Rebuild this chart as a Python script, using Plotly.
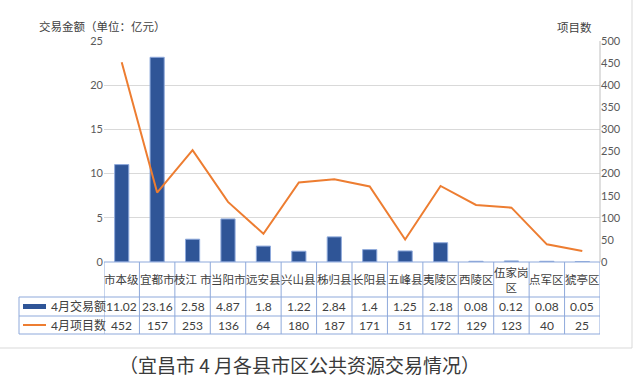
import plotly.graph_objects as go

categories = ["市本级", "宜都市", "枝江市", "当阳市", "远安县", "兴山县", "秭归县",
              "长阳县", "五峰县", "夷陵区", "西陵区", "伍家岗区", "点军区", "猇亭区"]
category_labels = ["市本级", "宜都市", "枝江 市", "当阳市", "远安县", "兴山县", "秭归县",
                   "长阳县", "五峰县", "夷陵区", "西陵区", "伍家岗<br>区", "点军区", "猇亭区"]
amounts = [11.02, 23.16, 2.58, 4.87, 1.8, 1.22, 2.84, 1.4, 1.25, 2.18, 0.08, 0.12, 0.08, 0.05]
projects = [452, 157, 253, 136, 64, 180, 187, 171, 51, 172, 129, 123, 40, 25]
series_names = ["4月交易额", "4月项目数"]
left_title = "交易金额（单位：亿元）"
right_title = "项目数"
caption = "（宜昌市 4 月各县市区公共资源交易情况）"

W, H = 635, 388
L, R, T, B = 104, 600, 41, 262  # plot area in pixels

def px(x):
    return (x - L) / (R - L)

def py(y):
    return (B - y) / (B - T)

BLUE = "#2F5597"
ORANGE = "#ED7D31"
GRID = "#D9D9D9"
TBL = "#8EA9DB"
FONT = "Lato, Noto Sans CJK SC, sans-serif"
TXT = "#404040"

fig = go.Figure()
fig.add_trace(go.Bar(x=categories, y=amounts, name=series_names[0], width=0.4,
                     marker=dict(color=BLUE, line=dict(color="#8FAADC", width=1))))
fig.add_trace(go.Scatter(x=categories, y=projects, name=series_names[1], yaxis="y2",
                         mode="lines", line=dict(color=ORANGE, width=2)))

shapes = []
# horizontal table lines
row_y = [262, 297, 316, 334]
for i, yy in enumerate(row_y):
    x0 = px(L) if i == 0 else px(19)
    shapes.append(dict(type="line", xref="paper", yref="paper", x0=x0, x1=1,
                       y0=py(yy), y1=py(yy), line=dict(color=TBL, width=1)))
# vertical table lines
for i in range(len(categories) + 1):
    shapes.append(dict(type="line", xref="x", yref="paper", x0=i - 0.5, x1=i - 0.5,
                       y0=py(262), y1=py(334), line=dict(color=TBL, width=1)))
shapes.append(dict(type="line", xref="paper", yref="paper", x0=px(19), x1=px(19),
                   y0=py(297), y1=py(334), line=dict(color=TBL, width=1)))
# legend glyphs
shapes.append(dict(type="rect", xref="paper", yref="paper", x0=px(23), x1=px(46),
                   y0=py(309), y1=py(304), fillcolor=BLUE, line=dict(width=0)))
shapes.append(dict(type="line", xref="paper", yref="paper", x0=px(23), x1=px(46),
                   y0=py(325), y1=py(325), line=dict(color=ORANGE, width=2)))
# chart frame
shapes.append(dict(type="rect", xref="paper", yref="paper", x0=px(-2), x1=px(632),
                   y0=py(348), y1=py(-2), line=dict(color=GRID, width=1)))
# right axis line
shapes.append(dict(type="line", xref="paper", yref="paper", x0=1, x1=1,
                   y0=0, y1=1, line=dict(color="#BFBFBF", width=1)))

ann = []
for c, lab, a, p in zip(categories, category_labels, amounts, projects):
    ann.append(dict(x=c, xref="x", y=py(279.5), yref="paper", text=lab, showarrow=False,
                    font=dict(size=11.5, color=TXT, family=FONT), yanchor="middle"))
    ann.append(dict(x=c, xref="x", y=py(306.5), yref="paper", text=str(a), showarrow=False,
                    font=dict(size=12, color=TXT, family=FONT), yanchor="middle"))
    ann.append(dict(x=c, xref="x", y=py(325), yref="paper", text=str(p), showarrow=False,
                    font=dict(size=12, color=TXT, family=FONT), yanchor="middle"))
for name, yy in zip(series_names, [306.5, 325]):
    ann.append(dict(x=px(49), xref="paper", y=py(yy), yref="paper", text=name,
                    showarrow=False, xanchor="left", yanchor="middle",
                    font=dict(size=12, color=TXT, family=FONT)))
ann.append(dict(x=px(37), xref="paper", y=py(26), yref="paper", text=left_title,
                showarrow=False, xanchor="left", yanchor="middle",
                font=dict(size=11.5, color=TXT, family=FONT)))
ann.append(dict(x=px(594), xref="paper", y=py(28), yref="paper", text=right_title,
                showarrow=False, xanchor="right", yanchor="middle",
                font=dict(size=11.5, color=TXT, family=FONT)))
ann.append(dict(x=px(299), xref="paper", y=py(364), yref="paper", text=caption,
                showarrow=False, xanchor="center", yanchor="middle",
                font=dict(size=19, color="#3a3a3a", family="Noto Sans CJK SC, sans-serif")))

fig.update_layout(
    width=W, height=H,
    margin=dict(l=L, r=W - R, t=T, b=H - B, pad=0),
    paper_bgcolor="white", plot_bgcolor="white",
    showlegend=False,
    bargap=0.6,
    font=dict(family=FONT, color=TXT),
    xaxis=dict(type="category", range=[-0.5, len(categories) - 0.5], showticklabels=False,
               showgrid=False, showline=False, zeroline=False, ticks=""),
    yaxis=dict(range=[0, 25], dtick=5, showgrid=True, gridcolor=GRID, gridwidth=1,
               zeroline=False, showline=False, ticks="",
               tickfont=dict(size=11, color="#595959", family=FONT)),
    yaxis2=dict(range=[0, 500], dtick=50, overlaying="y", side="right", showgrid=False,
                zeroline=False, showline=False, ticks="",
                tickfont=dict(size=11, color="#595959", family=FONT)),
    shapes=shapes, annotations=ann,
)

fig.write_html("out.html", config={"displayModeBar": False},
               post_script="document.body.style.margin='0';document.body.style.overflow='hidden';")
